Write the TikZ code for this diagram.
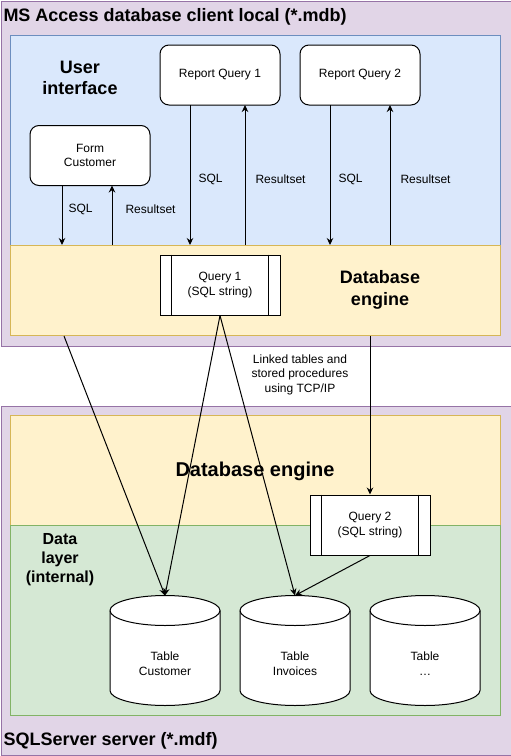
\documentclass[tikz,border=0pt]{standalone}
\usepackage{xcolor}
\usepackage{fontspec}
\setmainfont{Liberation Sans}
\usepackage{tikz}
\usetikzlibrary{positioning}
\usetikzlibrary{arrows.meta}

\definecolor{purpleFill}{HTML}{E1D5E7}
\definecolor{purpleLine}{HTML}{9673A6}
\definecolor{blueFill}{HTML}{DAE8FC}
\definecolor{blueLine}{HTML}{6C8EBF}
\definecolor{yellowFill}{HTML}{FFF2CC}
\definecolor{yellowLine}{HTML}{D6B656}
\definecolor{greenFill}{HTML}{D5E8D4}
\definecolor{greenLine}{HTML}{82B366}

\begin{document}
\begin{tikzpicture} [x=1pt, y=-1pt, line width=1pt,
                small/.style = {font=\fontsize{12}{14.5}\selectfont},
                title/.style = {font=\fontsize{18}{21}\selectfont\bfseries, anchor=west, inner sep=0pt},
                heading/.style = {font=\fontsize{18}{21.5}\selectfont\bfseries, align=center},
                layer/.style = {draw, anchor=north west, inner sep=0pt, minimum width=490pt},
                box/.style = {draw, fill=white, rounded corners=9pt, minimum width=120pt, minimum height=60pt, outer sep=0pt, align=center, small},
                process/.style = {draw, fill=white, minimum width=120pt, minimum height=60pt, align=center, small},
                dbTable/.style = {minimum width=110pt, minimum height=110pt, inner sep=0pt, outer sep=0pt},
                tableCap/.style = {x radius=55pt, y radius=15pt},
                lbl/.style = {small, inner sep=0pt},
                arrow/.style = {-{Stealth[length=7pt, width=6.5pt]}}
            ]
            \useasboundingbox (0,0) rectangle (511,756);
            % client side
            \node (client) at (0.5,0.5) [draw=purpleLine, fill=purpleFill, anchor=north west, minimum width=510pt, minimum height=345pt] {};
            \node (ui) at (10,35) [layer, draw=blueLine, fill=blueFill, minimum height=210pt] {};
            \node (engA) at (10,245) [layer, draw=yellowLine, fill=yellowFill, minimum height=90pt] {};
            \node (clientTitle) at (3,17) [title] {MS Access database client local (*.mdb)};
            \node (uiLabel) at (80,78) [heading] {User\\interface};
            \node (engALabel) at (380,290) [heading] {Database\\engine};
            \node (rq1) at (220,75) [box] {Report Query 1};
            \node[box, right=20pt of rq1] (rq2) {Report Query 2};
            \node (form) at (90,155.5) [box] {Form\\Customer};
            \node (q1) at (220,285) [process] {Query 1\\(SQL string)};
            % server side
            \node (server) at (0.5,405.5) [draw=purpleLine, fill=purpleFill, anchor=north west, minimum width=510pt, minimum height=349.5pt] {};
            \node (engB) at (10,415) [layer, draw=yellowLine, fill=yellowFill, minimum height=110pt] {};
            \node (data) at (10,525) [layer, draw=greenLine, fill=greenFill, minimum height=190pt] {};
            \node (serverTitle) at (3,741) [title] {SQLServer server (*.mdf)};
            \node (engBLabel) at (255,471) [font=\fontsize{20}{24}\selectfont\bfseries] {Database engine};
            \node (dataLabel) at (60,560) [font=\fontsize{16}{19}\selectfont\bfseries, align=center] {Data\\layer\\(internal)};
            \node (q2) at (370,525) [process] {Query 2\\(SQL string)};
            \node (tCust) at (165,650.5) [dbTable] {};
            \node[dbTable, right=20pt of tCust] (tInv) {};
            \node[dbTable, right=20pt of tInv] (tMore) {};
            \foreach \t/\name in {tCust/Customer, tInv/Invoices, tMore/\ldots} {
                \draw [fill=white] ([yshift=-15pt] \t.north west) arc[start angle=180, end angle=0, tableCap] -- ([yshift=15pt] \t.south east) arc[start angle=0, end angle=-180, tableCap] -- cycle;
                \draw ([yshift=-15pt] \t.north west) arc[start angle=180, end angle=360, tableCap];
                \node (\t-text) at ([yshift=-13pt] \t.center) [small, align=center] {Table\\\name};
            }
            \node (link) at (300,374.5) [small, align=center] {Linked tables and\\stored procedures\\using TCP/IP};
            \foreach \q in {q1,q2} {
                \draw ([xshift=12pt] \q.north west) -- ([xshift=12pt] \q.south west);
                \draw ([xshift=-12pt] \q.north east) -- ([xshift=-12pt] \q.south east);
            }
            % SQL and result sets
            \draw [arrow] ([xshift=-28pt] form.south) to node[lbl, pos=.4, right=6pt] {SQL} ([xshift=-28pt] form.south |- engA.north);
            \draw [arrow] ([xshift=22pt] form.south |- engA.north) to node[lbl, pos=.6, right=13pt] {Resultset} ([xshift=22pt] form.south);
            \draw [arrow] ([xshift=-30pt] rq1.south) to node[lbl, pos=.53, right=8pt] {SQL} ([xshift=-30pt] rq1.south |- engA.north);
            \draw [arrow] ([xshift=25pt] rq1.south |- engA.north) to node[lbl, pos=.47, right=10pt] {Resultset} ([xshift=25pt] rq1.south);
            \draw [arrow] ([xshift=-30pt] rq2.south) to node[lbl, pos=.53, right=8pt] {SQL} ([xshift=-30pt] rq2.south |- engA.north);
            \draw [arrow] ([xshift=30pt] rq2.south |- engA.north) to node[lbl, pos=.47, right=10pt] {Resultset} ([xshift=30pt] rq2.south);
            % links to the server
            \draw [arrow] ([xshift=54pt] engA.south west) -- (tCust.north);
            \draw [arrow] (q1.south) -- (tCust.north);
            \draw [arrow] (q1.south) -- (tInv.north);
            \draw [arrow] (q2.north |- engA.south) -- (q2.north);
            \draw [arrow] (q2.south) -- (tInv.north);
        \end{tikzpicture}
\end{document}
